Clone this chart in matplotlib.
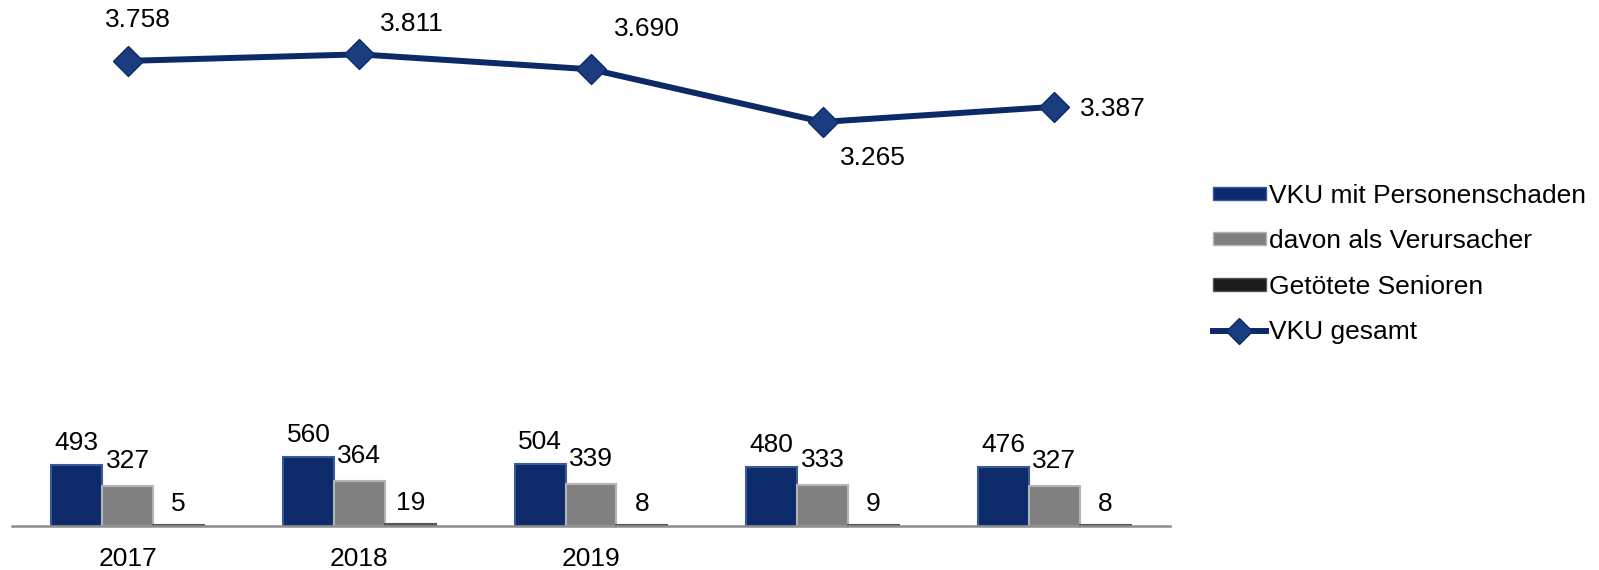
import numpy as np
import matplotlib
matplotlib.use("Agg")
import matplotlib.pyplot as plt
from matplotlib.patches import Rectangle
from matplotlib.lines import Line2D

plt.rcParams["font.family"] = ["Liberation Sans", "DejaVu Sans"]

years = ["2017", "2018", "2019", "", ""]
vku_personen = [493, 560, 504, 480, 476]
verursacher = [327, 364, 339, 333, 327]
getoetete = [5, 19, 8, 9, 8]
vku_gesamt = [3758, 3811, 3690, 3265, 3387]
gesamt_labels = ["3.758", "3.811", "3.690", "3.265", "3.387"]

# label offsets for the line values (pixels, dx / dy up)
line_label_off = [(10, 41), (52, 30), (56, 40), (50, -36), (59, -2)]
# gap between bar top and label baseline per series (pixels)
bar_label_gap = [15, 18, 14]

BLUE = "#0d2b6b"
GREY = "#808080"
BLACK = "#1a1a1a"
LINE = "#0b2a66"
PX = 72 / 100
FS = 19

fig = plt.figure(figsize=(15.99, 5.70), dpi=100)
ax = fig.add_axes([12 / 1599, 44 / 570, 1158 / 1599, 526 / 570])

x = np.arange(len(years))
w = 0.22
series = [(vku_personen, BLUE, "#3a5a9a", "VKU mit Personenschaden"),
          (verursacher, GREY, "#b4b4b4", "davon als Verursacher"),
          (getoetete, BLACK, "#555555", "Getötete Senioren")]
for i, (vals, col, edge, lab) in enumerate(series):
    bars = ax.bar(x + (i - 1) * w, vals, w, color=col, edgecolor=edge, linewidth=1.5, zorder=2)
    for b, v in zip(bars, vals):
        ax.annotate(str(v), (b.get_x() + b.get_width() / 2, b.get_height()),
                    xytext=(0, bar_label_gap[i] * PX), textcoords="offset points",
                    ha="center", va="baseline", fontsize=FS)

ax.plot(x, vku_gesamt, color=LINE, lw=4.3, marker="D", ms=15,
        markerfacecolor="#1b3d80", markeredgecolor=LINE, zorder=3)
for xi, v, lab, (dx, dy) in zip(x, vku_gesamt, gesamt_labels, line_label_off):
    ax.annotate(lab, (xi, v), xytext=(dx * PX, dy * PX), textcoords="offset points",
                ha="center", va="center", fontsize=FS)

ax.set_xlim(-0.5, len(years) - 0.5)
ax.set_ylim(0, 526 * 8.08)
ax.set_xticks(x)
ax.set_xticklabels(years, fontsize=FS)
ax.tick_params(axis="x", length=0, pad=15)
ax.set_yticks([])
for s in ["top", "right", "left"]:
    ax.spines[s].set_visible(False)
ax.spines["bottom"].set_color("#8c8c8c")
ax.spines["bottom"].set_linewidth(1.8)

handles = [Rectangle((0, 0), 1, 1, facecolor=BLUE, edgecolor="#3a5a9a"),
           Rectangle((0, 0), 1, 1, facecolor=GREY, edgecolor="#b4b4b4"),
           Rectangle((0, 0), 1, 1, facecolor=BLACK, edgecolor="#555555"),
           Line2D([], [], color=LINE, lw=4.3, marker="D", ms=13,
                  markerfacecolor="#1b3d80", markeredgecolor=LINE)]
labels = [s[3] for s in series] + ["VKU gesamt"]
fig.legend(handles, labels, loc="center left", bbox_to_anchor=(1213 / 1599, 1 - 264 / 570),
           frameon=False, fontsize=FS, handlelength=2.0, handleheight=0.38,
           handletextpad=0.12, labelspacing=0.82, borderpad=0, borderaxespad=0)

fig.savefig("out.png", dpi=100)
